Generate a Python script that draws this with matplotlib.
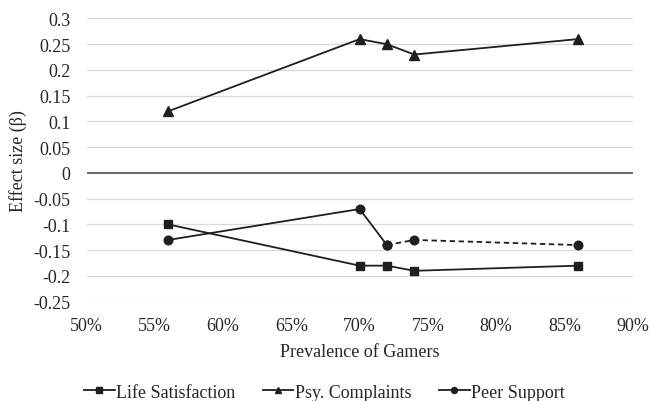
import matplotlib
matplotlib.use("Agg")
import matplotlib.pyplot as plt
from matplotlib.ticker import FuncFormatter

plt.rcParams["font.family"] = ["Liberation Serif", "DejaVu Serif"]

prevalence = [56, 70, 72, 74, 86]
life_satisfaction = [-0.10, -0.18, -0.18, -0.19, -0.18]
psy_complaints = [0.12, 0.26, 0.25, 0.23, 0.26]
peer_support = [-0.13, -0.07, -0.14, -0.13, -0.14]
dashed_from = 2  # peer support drawn dashed from this point on

y_ticks = [0.3, 0.25, 0.2, 0.15, 0.1, 0.05, 0, -0.05, -0.1, -0.15, -0.2, -0.25]
x_ticks = [50, 55, 60, 65, 70, 75, 80, 85, 90]

line_col = "#1f1f1f"
txt_col = "#262626"
fs = 13

fig = plt.figure(figsize=(6.49, 4.02), dpi=100)
ax = fig.add_axes([0.1333, 0.247, 0.8416, 0.7045])

for y in y_ticks:
    if y == 0:
        continue
    ax.axhline(y, color="#d9d9d9", lw=0.9, zorder=0)
ax.axhline(0, color="#404040", lw=1.1, zorder=1)

ax.plot(prevalence, life_satisfaction, color=line_col, lw=1.3, marker="s", ms=5.5,
        label="Life Satisfaction", zorder=3)
ax.plot(prevalence, psy_complaints, color=line_col, lw=1.3, marker="^", ms=6.5,
        label="Psy. Complaints", zorder=3)
ax.plot(prevalence[:dashed_from + 1], peer_support[:dashed_from + 1], color=line_col, lw=1.3,
        marker="o", ms=6.2, label="Peer Support", zorder=3)
ax.plot(prevalence[dashed_from:], peer_support[dashed_from:], color=line_col, lw=1.3,
        ls=(0, (3, 2)), marker="o", ms=6.2, zorder=3)

ax.set_xlim(50, 90)
ax.set_ylim(-0.25, 0.3)
ax.set_xticks(x_ticks)
ax.set_yticks(y_ticks)
ax.xaxis.set_major_formatter(FuncFormatter(lambda v, p: f"{v:.0f}%"))
ax.yaxis.set_major_formatter(FuncFormatter(lambda v, p: f"{v:g}"))
ax.tick_params(axis="both", length=0, labelsize=fs, colors=txt_col)
ax.tick_params(axis="x", pad=11)
ax.tick_params(axis="y", pad=11.5)
for s in ax.spines.values():
    s.set_visible(False)

ax.set_xlabel("Prevalence of Gamers", fontsize=fs, color=txt_col, labelpad=6.5)
ax.set_ylabel("Effect size (β)", fontsize=fs, color=txt_col, labelpad=4.5)

fig.legend(loc="center", bbox_to_anchor=(0.5, 0.022), ncol=3, frameon=False,
           fontsize=fs, handlelength=1.7, handletextpad=0.1, columnspacing=1.5,
           markerscale=0.7, labelcolor=txt_col)

fig.savefig("out.png", dpi=100)
